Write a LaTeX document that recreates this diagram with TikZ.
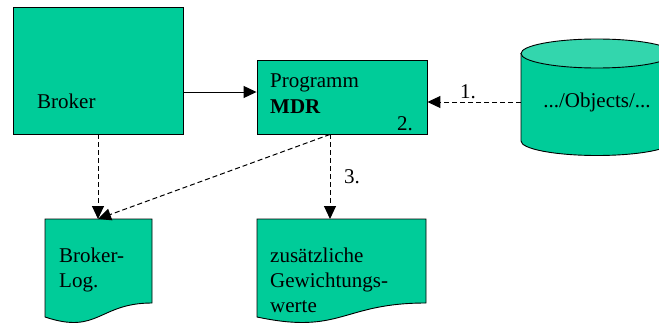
\documentclass[tikz,border=0pt]{standalone}
\usepackage{fontspec}
\setmainfont{Liberation Serif}
\usetikzlibrary{arrows.meta}
\definecolor{boxgreen}{HTML}{00CC99}
\definecolor{topgreen}{HTML}{33D6AD}
\tikzset{
  box/.style={draw=black, fill=boxgreen, line width=0.9pt},
  shape box/.style={box, rectangle, inner sep=0pt},
  lbl/.style={font=\fontsize{21}{25}\selectfont, inner sep=0pt, anchor=base west},
  conn/.style={line width=1pt, -{Triangle[length=13pt,width=12pt]}},
  dashconn/.style={conn, dash pattern=on 5pt off 3pt},
}
\begin{document}
\begin{tikzpicture}[x=1pt,y=-1pt]
\useasboundingbox (0,0) rectangle (659,324);
\clip (0,0) rectangle (659,324);

% Broker and program boxes
\node[shape box, minimum width=170pt, minimum height=127pt] (broker) at (98,70.5) {};
\node[lbl] (brokertxt) at (37,108) {Broker};
\node[shape box, minimum width=170pt, minimum height=74pt] (prog) at (342,97) {};
\node[lbl] (progtxt) at (270,87) {Programm};
\node[lbl, font=\fontsize{21}{25}\selectfont\bfseries] (mdrtxt) at (270,113) {MDR};
\node[lbl] (two) at (397,130) {2.};

% Database cylinder (right part runs off the edge)
\path[box] (521,53.5) -- (521,141) arc[start angle=180, end angle=360, x radius=76, y radius=-14.5]
  -- (673,53.5) -- cycle;
\draw[box, fill=topgreen] (597,53.5) ellipse[x radius=76, y radius=14.5];
\node[lbl, anchor=center] (db) at (597,102) {.../Objects/...};
\coordinate (dbin) at (521,102);

% Document shapes
\path[box] (45,219) -- (152,219) -- (152,303)
  .. controls (98.5,303) and (98.5,335) .. (45,317) -- cycle;
\coordinate (logtop) at (98,219);
\node[lbl] (logtxt) at (59,262) {Broker-};
\node[lbl] (logtxt2) at (59,287) {Log.};

\path[box] (257,219) -- (426,219) -- (426,303)
  .. controls (341.5,303) and (341.5,335) .. (257,317) -- cycle;
\coordinate (wtop) at (330,219);
\node[lbl] (wtxt1) at (270,262) {zusätzliche};
\node[lbl] (wtxt2) at (270,287) {Gewichtungs-};
\node[lbl] (wtxt3) at (270,312) {werte};

% Connectors
\draw[conn] (broker.east |- 0,92) -- (prog.west |- 0,92);
\draw[dashconn] (dbin) -- (prog.east |- dbin);
\node[lbl] (one) at (460,98) {1.};
\draw[dashconn] (broker.south -| logtop) -- (logtop);
\draw[dashconn] (prog.south -| wtop) -- (logtop);
\draw[dashconn] (prog.south -| wtop) -- (wtop);
\node[lbl] (three) at (344,183) {3.};
\end{tikzpicture}
\end{document}
